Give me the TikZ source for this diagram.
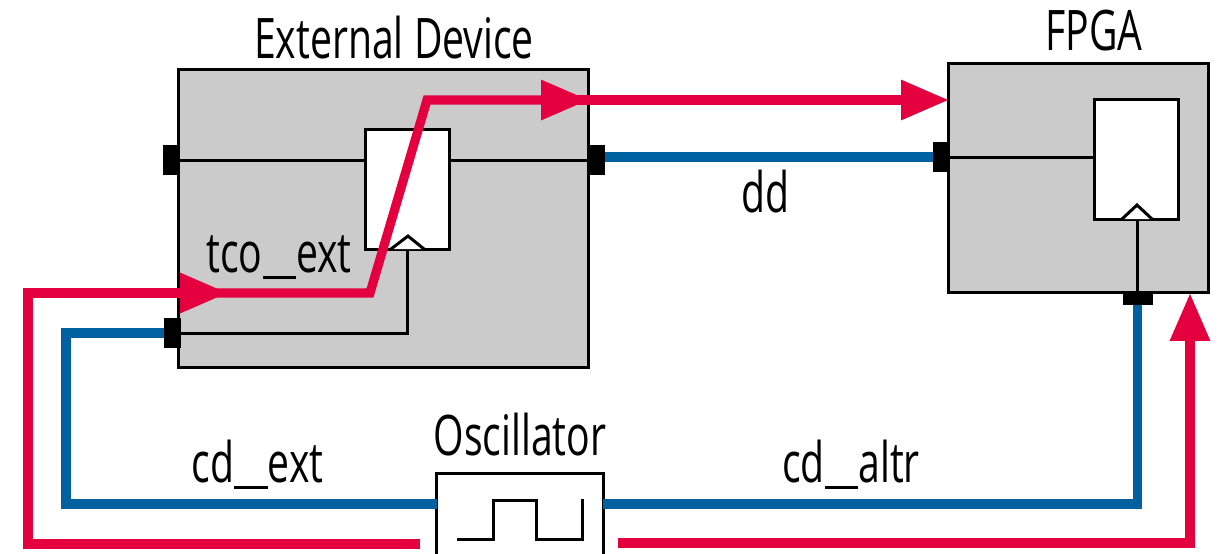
\documentclass[tikz,border=0pt]{standalone}
\usepackage{fontspec}
\setmainfont[FakeStretch=0.7]{Open Sans}
\usetikzlibrary{arrows.meta}
\definecolor{sigred}{HTML}{E4003F}
\definecolor{sigblue}{HTML}{0060A0}
\definecolor{boxgray}{HTML}{CBCBCB}
\newcommand{\wideus}{\rule[-0.12em]{0.6em}{0.045em}}
\tikzset{
	device/.style={draw=black, line width=0.85pt, fill=boxgray, inner sep=0pt, outer sep=0pt},
	register/.style={draw=black, line width=0.85pt, fill=white, inner sep=0pt, outer sep=0pt, minimum width=0.84cm, minimum height=1.19cm},
	portv/.style={fill=black, inner sep=0pt, outer sep=0pt, minimum width=0.16cm, minimum height=0.3cm},
	porth/.style={fill=black, inner sep=0pt, outer sep=0pt, minimum width=0.3cm, minimum height=0.13cm},
	wire/.style={draw=black, line width=0.85pt},
	redline/.style={draw=sigred, line width=2.6pt},
	blueline/.style={draw=sigblue, line width=2.6pt},
	redtip/.style={-{Triangle[length=13.6pt,width=10.8pt]}},
	label/.style={font=\fontsize{15.9pt}{18pt}\selectfont, anchor=base, inner sep=0pt}
}
\begin{document}
\begin{tikzpicture}[x=0.01cm, y=-0.01cm]
\useasboundingbox (0,0) rectangle (1218,553);
\clip (0,0) rectangle (1218,553);
% blocks
\node[device, minimum width=4.09cm, minimum height=2.97cm] (extdev) at (383.5,218.5) {};
\node[device, minimum width=2.59cm, minimum height=2.28cm] (fpga) at (1078.5,178) {};
\node[register] (extreg) at (407.5,189.5) {};
\node[register] (fpgareg) at (1136.5,159.5) {};
\node[draw=black, line width=0.85pt, fill=white, inner sep=0pt, outer sep=0pt, minimum width=1.66cm, minimum height=1.26cm] (osc) at (520,537) {};
% ports
\foreach \name/\px/\py in {extdata/171/160, extclk/172.5/333, extout/596.5/160, fpgadata/940.5/157}
	{\node[portv] (\name) at (\px,\py) {};}
\node[porth] (fpgaclk) at (1137.5,298.5) {};
% wires inside the blocks
\draw[wire] (extdata.east) -- (extreg.west |- extdata);
\draw[wire] (extreg.east |- extout) -- (extout.west);
\draw[wire] (extclk.east) -| (extreg.south);
\draw[wire] (fpgadata.east) -- (fpgareg.west |- fpgadata);
\draw[wire] (fpgaclk.north) -- (fpgaclk.north |- fpgareg.south);
% clock marks
\draw[wire, line join=miter, fill=white] (391,249) -- (408,236) -- (424,249);
\draw[wire, line join=miter, fill=white] (1122,219) -- (1137,205) -- (1152,219);
% square wave
\draw[wire] (457,539) -- (493,539) -- (493,500.5) -- (536,500.5) -- (536,539) -- (582,539) -- (582,499);
% blue signals
\coordinate (oscleft) at (osc.west |- 0,504);
\coordinate (oscright) at (osc.east |- 0,504);
\draw[blueline] (oscleft) -- (66,504) |- (extclk.west);
\draw[blueline] (oscright) -| (fpgaclk.south);
\draw[blueline] (extout.east |- fpgadata) -- (fpgadata.west);
% red path
\coordinate (redstart) at (420,544);
\coordinate (redcorner) at (28,544);
\coordinate (tipa) at (228,293);
\coordinate (basea) at (200,293);
\coordinate (benda) at (370,293);
\coordinate (bendb) at (427,100);
\coordinate (tipb) at (589,100);
\coordinate (baseb) at (565,100);
\coordinate (redback) at (618,543);
\coordinate (tipd) at (1190,293);
\draw[redline, redtip] (redstart) -- (redcorner) |- (tipa);
\draw[redline, redtip] (basea) -- (benda) -- (bendb) -- (tipb);
\draw[redline, redtip] (baseb) -- (tipb -| fpga.west);
\draw[redline, redtip] (redback) -| (tipd);
% labels
\node[label] (extname) at (394,58) {External Device};
\node[label] (fpganame) at (1094,50) {FPGA};
\node[label] (ddname) at (765,212) {dd};
\node[label] (tconame) at (279,272) {tco\wideus ext};
\node[label] (oscname) at (520,455) {Oscillator};
\node[label] (cdextname) at (257.5,482) {cd\wideus ext};
\node[label] (cdaltrname) at (851,482) {cd\wideus altr};
\end{tikzpicture}
\end{document}
